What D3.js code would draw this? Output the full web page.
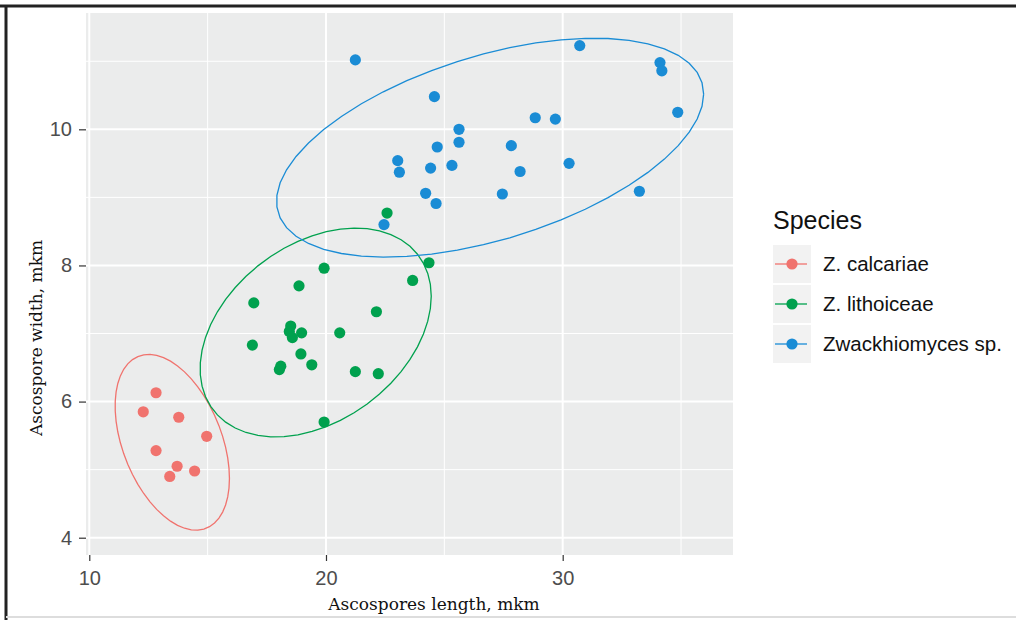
<!DOCTYPE html>
<html>
<head>
<meta charset="utf-8">
<script src="https://cdn.jsdelivr.net/npm/d3@7"></script>
<style>
  body { margin: 0; background: #fff; }
  svg { display: block; }
</style>
</head>
<body>
<div id="chart"></div>
<script>
// species and colours
const species = ["Z. calcariae", "Z. lithoiceae", "Zwackhiomyces sp."];
const colors = ["#F0736E", "#00A14E", "#1A8CD5"];

// ascospore length / width (mkm)
const calcariaeLength = [12.82, 12.28, 13.78, 14.96, 12.82, 13.71, 14.45, 13.40];
const calcariaeWidth  = [6.13, 5.85, 5.77, 5.49, 5.28, 5.05, 4.98, 4.90];

const lithoiceaeLength = [19.92, 18.86, 16.95, 22.13, 18.51, 18.97, 18.58, 18.45, 20.58, 16.89,
                          18.94, 19.40, 18.09, 18.03, 21.24, 22.21, 19.92, 23.66, 24.35, 22.58];
const lithoiceaeWidth  = [7.96, 7.70, 7.45, 7.32, 7.11, 7.01, 6.94, 7.03, 7.01, 6.83,
                          6.70, 6.54, 6.52, 6.47, 6.44, 6.41, 5.70, 7.78, 8.04, 8.77];

const zwackLength = [21.24, 24.58, 28.84, 29.69, 25.62, 25.62, 24.70, 27.83, 23.03, 23.10, 24.42, 25.32,
                     28.20, 24.21, 24.65, 27.45, 22.45, 30.72, 34.11, 34.19, 34.86, 30.27, 33.24];
const zwackWidth  = [11.02, 10.48, 10.17, 10.15, 10.00, 9.81, 9.74, 9.76, 9.54, 9.37, 9.43, 9.47,
                     9.38, 9.06, 8.91, 9.05, 8.60, 11.23, 10.98, 10.86, 10.25, 9.50, 9.09];

const xTicks = [10, 20, 30];
const xMinor = [15, 25, 35];
const yTicks = [4, 6, 8, 10];
const yMinor = [5, 7, 9, 11];

const groups = [
  { name: species[0], len: calcariaeLength, wid: calcariaeWidth },
  { name: species[1], len: lithoiceaeLength, wid: lithoiceaeWidth },
  { name: species[2], len: zwackLength, wid: zwackWidth }
];

const width = 1016, height = 620;
const panel = { left: 86, right: 733, top: 13, bottom: 555 };

let x = d3.scaleLinear().domain([9.861, 37.195]).range([panel.left, panel.right]);
let y = d3.scaleLinear().domain([3.746, 11.709]).range([panel.bottom, panel.top]);
let color = d3.scaleOrdinal().domain(species).range(colors);

// robust t covariance, same steps as MASS::cov.trob
function covTrob(pts, nu = 5, maxit = 25, tol = 0.01) {
  const p = 2;
  let loc = [d3.mean(pts, d => d[0]), d3.mean(pts, d => d[1])];
  let w = pts.map(() => 1);
  let X;
  for (let iter = 0; iter < maxit; iter++) {
    let w0 = w;
    X = pts.map(d => [d[0] - loc[0], d[1] - loc[1]]);
    let sw = d3.sum(w), a = 0, b = 0, c = 0;
    X.forEach((v, i) => {
      a += w[i] * v[0] * v[0]; b += w[i] * v[0] * v[1]; c += w[i] * v[1] * v[1];
    });
    a /= sw; b /= sw; c /= sw;
    let det = a * c - b * b;
    let Q = X.map(v => (c * v[0] * v[0] - 2 * b * v[0] * v[1] + a * v[1] * v[1]) / det);
    w = Q.map(q => (nu + p) / (nu + q));
    let sw2 = d3.sum(w);
    loc = [d3.sum(pts, (d, i) => w[i] * d[0]) / sw2, d3.sum(pts, (d, i) => w[i] * d[1]) / sw2];
    if (w.every((wi, i) => Math.abs(wi - w0[i]) < tol)) break;
  }
  let a = 0, b = 0, c = 0;
  X.forEach((v, i) => {
    a += w[i] * v[0] * v[0]; b += w[i] * v[0] * v[1]; c += w[i] * v[1] * v[1];
  });
  let n = pts.length;
  return { center: loc, cov: [[a / n, b / n], [b / n, c / n]] };
}

// like ggplot2 stat_ellipse (type "t", level 0.95, 51 segments)
function ellipsePoints(len, wid, level = 0.95, segments = 51) {
  let pts = len.map((l, i) => [l, wid[i]]);
  let fit = covTrob(pts);
  let dfd = pts.length - 1;
  let qf = (dfd / 2) * (Math.pow(1 - level, -2 / dfd) - 1);
  let radius = Math.sqrt(2 * qf);
  let s = fit.cov;
  let r11 = Math.sqrt(s[0][0]), r12 = s[0][1] / r11, r22 = Math.sqrt(s[1][1] - r12 * r12);
  return d3.range(segments + 1).map(k => {
    let t = k * 2 * Math.PI / segments;
    let cs = Math.cos(t), sn = Math.sin(t);
    return [fit.center[0] + radius * cs * r11, fit.center[1] + radius * (cs * r12 + sn * r22)];
  });
}

let svg = d3.select("#chart").append("svg")
    .attr("width", width)
    .attr("height", height);

svg.append("rect")
    .attr("width", width).attr("height", height).attr("fill", "#fff");

// frame of the figure
svg.append("line").attr("x1", 0).attr("x2", width).attr("y1", 6).attr("y2", 6)
    .attr("stroke", "#222").attr("stroke-width", 3);
svg.append("line").attr("x1", 6).attr("x2", 6).attr("y1", 5).attr("y2", height)
    .attr("stroke", "#222").attr("stroke-width", 3);
svg.append("line").attr("x1", 6).attr("x2", width).attr("y1", 617).attr("y2", 617)
    .attr("stroke", "#ddd").attr("stroke-width", 2);

svg.append("rect")
    .attr("x", panel.left).attr("y", panel.top)
    .attr("width", panel.right - panel.left)
    .attr("height", panel.bottom - panel.top)
    .attr("fill", "#EBECEC");

let grid = svg.append("g").attr("stroke", "#fff");
grid.selectAll(".xminor").data(xMinor).enter().append("line")
    .attr("x1", d => x(d)).attr("x2", d => x(d))
    .attr("y1", panel.top).attr("y2", panel.bottom).attr("stroke-width", 1);
grid.selectAll(".yminor").data(yMinor).enter().append("line")
    .attr("y1", d => y(d)).attr("y2", d => y(d))
    .attr("x1", panel.left).attr("x2", panel.right).attr("stroke-width", 1);
grid.selectAll(".xmajor").data(xTicks).enter().append("line")
    .attr("x1", d => x(d)).attr("x2", d => x(d))
    .attr("y1", panel.top).attr("y2", panel.bottom).attr("stroke-width", 2);
grid.selectAll(".ymajor").data(yTicks).enter().append("line")
    .attr("y1", d => y(d)).attr("y2", d => y(d))
    .attr("x1", panel.left).attr("x2", panel.right).attr("stroke-width", 2);

// axes
let xAxis = svg.append("g")
    .attr("transform", `translate(0, ${ panel.bottom })`)
    .call(d3.axisBottom(x).tickValues(xTicks).tickSize(6).tickPadding(10));
let yAxis = svg.append("g")
    .attr("transform", `translate(${ panel.left }, 0)`)
    .call(d3.axisLeft(y).tickValues(yTicks).tickSize(7).tickPadding(7));

[xAxis, yAxis].forEach(ax => {
  ax.select(".domain").remove();
  ax.selectAll(".tick line").attr("stroke", "#333").attr("stroke-width", 1.2);
  ax.selectAll(".tick text")
    .attr("fill", "#4D4D4D")
    .attr("font-family", "Liberation Sans, Arial, sans-serif")
    .attr("font-size", "20px");
});

// points
groups.forEach(g => {
  svg.append("g").selectAll("circle")
    .data(g.len.map((l, i) => [l, g.wid[i]]))
    .enter().append("circle")
    .attr("cx", d => x(d[0]))
    .attr("cy", d => y(d[1]))
    .attr("r", 5.6)
    .attr("fill", color(g.name));
});

// ellipses
let line = d3.line().x(d => x(d[0])).y(d => y(d[1]));
groups.forEach(g => {
  svg.append("path")
    .attr("d", line(ellipsePoints(g.len, g.wid)))
    .attr("fill", "none")
    .attr("stroke", color(g.name))
    .attr("stroke-width", 1.3);
});

// axis titles
svg.append("text")
    .attr("x", 434).attr("y", 610)
    .attr("text-anchor", "middle")
    .attr("font-family", "DejaVu Serif, serif")
    .attr("font-size", "17px")
    .attr("fill", "#111")
    .text("Ascospores length, mkm");
svg.append("text")
    .attr("transform", "translate(42, 338) rotate(-90)")
    .attr("text-anchor", "middle")
    .attr("font-family", "DejaVu Serif, serif")
    .attr("font-size", "17px")
    .attr("fill", "#111")
    .text("Ascospore width, mkm");

// legend
let legend = svg.append("g").attr("transform", "translate(773, 0)");
legend.append("text")
    .attr("x", 0).attr("y", 229)
    .attr("font-family", "Liberation Sans, Arial, sans-serif")
    .attr("font-size", "25px")
    .attr("fill", "#111")
    .text("Species");

let key = legend.selectAll(".key").data(species).enter().append("g")
    .attr("transform", (d, i) => `translate(0, ${ 245 + i * 40 })`);
key.append("rect")
    .attr("width", 38).attr("height", 38)
    .attr("fill", "#F2F2F2");
key.append("line")
    .attr("x1", 2).attr("x2", 34).attr("y1", 19).attr("y2", 19)
    .attr("stroke", d => color(d)).attr("stroke-width", 1.3);
key.append("circle")
    .attr("cx", 19).attr("cy", 19).attr("r", 5.6)
    .attr("fill", d => color(d));
key.append("text")
    .attr("x", 50).attr("y", 19).attr("dy", "0.36em")
    .attr("font-family", "Liberation Sans, Arial, sans-serif")
    .attr("font-size", "20.5px")
    .attr("fill", "#111")
    .text(d => d);
</script>
</body>
</html>
